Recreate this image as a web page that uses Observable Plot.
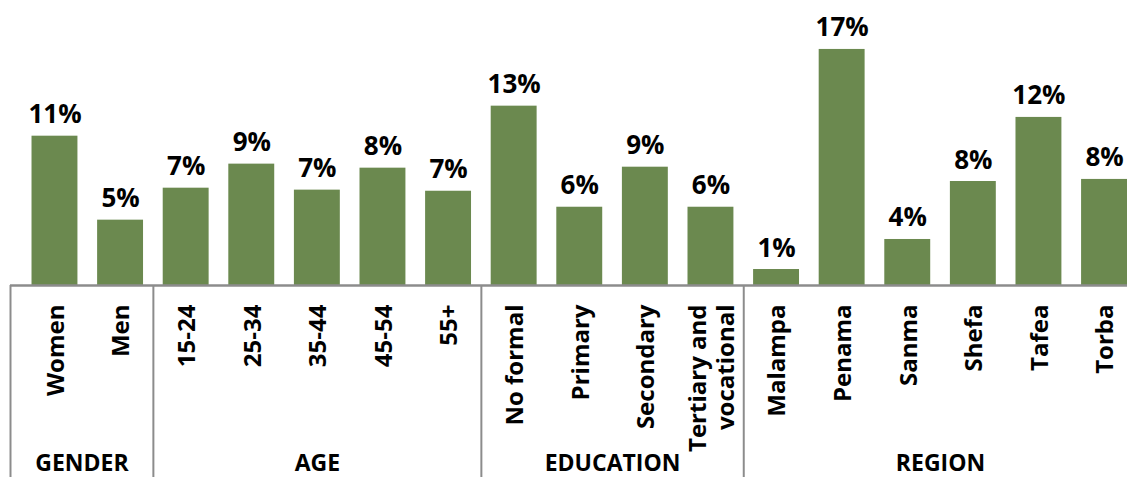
<!DOCTYPE html>
<html><head><meta charset="utf-8">
<script src="https://cdn.jsdelivr.net/npm/d3@7"></script>
<script src="https://cdn.jsdelivr.net/npm/@observablehq/plot@0.6"></script>
<style>
html,body{margin:0;padding:0;background:#fff;}
#chart{width:1127px;height:477px;overflow:hidden;}
</style></head><body><div id="chart"></div>
<script>
// ---- data ----
const categories = ["Women","Men","15-24","25-34","35-44","45-54","55+","No formal","Primary","Secondary","Tertiary and\nvocational","Malampa","Penama","Sanma","Shefa","Tafea","Torba"];
const categoryGroups = ["GENDER","GENDER","AGE","AGE","AGE","AGE","AGE","EDUCATION","EDUCATION","EDUCATION","EDUCATION","REGION","REGION","REGION","REGION","REGION","REGION"];
const groups = ["GENDER","AGE","EDUCATION","REGION"];
const values = [10.74,4.70,7.00,8.73,6.86,8.44,6.78,12.90,5.63,8.51,5.63,1.15,16.98,3.31,7.48,12.09,7.63];
const valueLabels = ["11%","5%","7%","9%","7%","8%","7%","13%","6%","9%","6%","1%","17%","4%","8%","12%","8%"];

// ---- layout ----
const W = 1127, H = 477, mL = 10, mR = 0, mT = 0, mB = 192;
const yMax = 20.5;
const padInner = 0.3, padOuter = 0.164, align = 1;
const barColor = "#6b894f", lineColor = "#8c8c8c";
const font = "'Open Sans', 'Noto Sans', sans-serif";

const data = categories.map((c, i) => ({category: c, group: categoryGroups[i], value: values[i], label: valueLabels[i]}));

// mirror of the band scale to derive group spans
const xb = d3.scaleBand().domain(categories).range([mL, W - mR]).paddingInner(padInner).paddingOuter(padOuter).align(align);
const step = xb.step(), bw = xb.bandwidth(), gap = step - bw;
const pxPerUnit = (H - mT - mB) / yMax;
const yBottom = -mB / pxPerUnit;

const groupInfo = groups.map((g, gi) => {
  const idx = categoryGroups.map((d, i) => d === g ? i : -1).filter(i => i >= 0);
  const first = categories[idx[0]], last = categories[idx[idx.length - 1]];
  const firstCenter = xb(first) + bw / 2;
  const left = gi === 0 ? mL : xb(first) - gap / 2;
  const right = xb(last) + bw + gap / 2;
  return {group: g, first, sepDx: left - firstCenter, labelDx: (left + right) / 2 - firstCenter};
});

const marks = [
  Plot.barY(data, {x: "category", y: "value", fill: barColor}),
  Plot.ruleY([0], {stroke: lineColor, strokeWidth: 2.3}),
  Plot.text(data, {x: "category", y: "value", text: "label", dy: -13, lineAnchor: "bottom",
    fontSize: 26, fontWeight: "bold", fill: "#000"}),
  Plot.axisX({tickRotate: -90, tickSize: 0, tickPadding: 19, fontSize: 24, fontWeight: "bold",
    textAnchor: "end", lineAnchor: "middle", lineHeight: 1.15, label: null, fill: "#000"})
];
for (const gi of groupInfo) {
  marks.push(Plot.ruleX([gi.first], {x: d => d, y1: 0, y2: yBottom, dx: gi.sepDx, stroke: lineColor, strokeWidth: 2}));
  marks.push(Plot.text([gi.group], {x: () => gi.first, text: d => d, frameAnchor: "bottom", dy: 185,
    dx: gi.labelDx, lineAnchor: "bottom", fontSize: 23, fontWeight: "bold", fill: "#000"}));
}

const chart = Plot.plot({
  width: W, height: H,
  marginLeft: mL, marginRight: mR, marginTop: mT, marginBottom: mB,
  style: {fontFamily: font, background: "#fff", overflow: "hidden"},
  x: {domain: categories, paddingInner: padInner, paddingOuter: padOuter, align, round: false, axis: null},
  y: {domain: [0, yMax], axis: null},
  marks
});
document.getElementById("chart").appendChild(chart);
</script>
</body></html>
